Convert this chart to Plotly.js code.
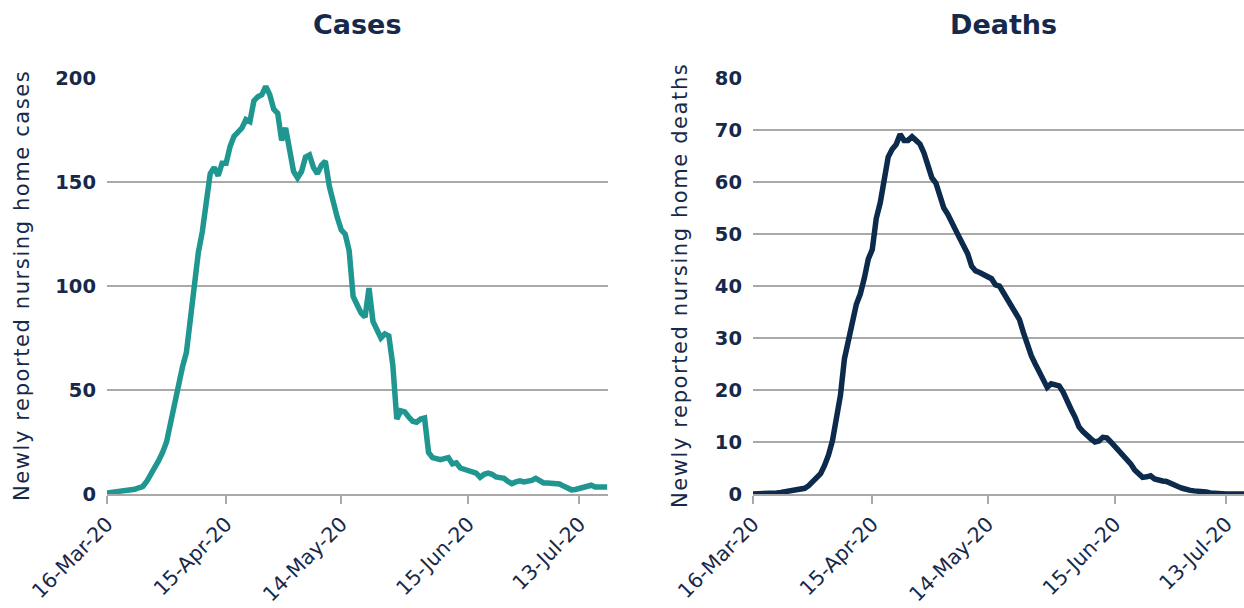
<!DOCTYPE html>
<html>
<head>
<meta charset="utf-8">
<script src="https://cdn.plot.ly/plotly-3.0.1.min.js"></script>
<style>
  html, body { margin: 0; padding: 0; background: #ffffff; }
  #chart { width: 1244px; height: 608px; }
</style>
</head>
<body>
<div id="chart"></div>
<script>
// ---- Data (daily, starting 16-Mar-2020) ----
const startDate = '2020-03-16';

const casesValues = [
  0.5, 0.7, 0.9, 1.2, 1.5, 1.7, 2, 2.3, 3, 3.6,
  6, 9, 12.5, 16, 20, 25, 34, 44, 53, 61,
  68, 84, 103, 116, 126, 140, 154, 157, 153, 159,
  159, 167, 172, 174, 176, 180, 179, 189, 191, 192,
  196, 192, 185, 183, 170, 176, 165, 155, 152, 155,
  162, 163, 157, 154, 158, 160, 148, 139, 133, 127,
  125, 117, 95, 91, 87, 85, 99, 83, 79, 75,
  77, 76, 62, 36, 40, 39.5, 37, 35, 34.5, 36,
  36.5, 20, 17.5, 17.3, 16.5, 17, 17.5, 14.5, 15, 12.5,
  12, 11.5, 11, 10, 8, 9.5, 10, 9.5, 8.2, 8,
  7.5, 6, 5, 5.8, 6.3, 5.8, 6, 6.5, 7.5, 6.5,
  5.3, 5.3, 5.3, 5, 4.8, 3.8, 2.8, 2, 2.2, 2.8,
  2.9, 3.5, 4.2, 3.4, 3.4, 3.4, 3.4
];

const deathsValues = [
  0, 0, 0, 0, 0, 0.1, 0.2, 0.3, 0.4, 0.6,
  0.7, 0.8, 0.8, 1.1, 1.6, 2.3, 3.0, 3.9, 5.5, 7.5,
  10.3, 14.5, 19, 26, 29, 33, 36.5, 38.5, 41.5, 45.2,
  47, 53, 56, 61, 64.8, 66.3, 67.2, 69.2, 68, 68,
  68.7, 68, 67.3, 65.6, 62.8, 60.8, 59.8, 57.5, 55, 53.8,
  52.5, 50.7, 49.2, 47.8, 46.2, 43.8, 42.9, 42.6, 42.2, 41.9,
  41.4, 40.2, 40, 38.7, 37.4, 36.1, 35, 33.6, 31.1, 28.5,
  26.6, 25, 23.5, 22.1, 20.5, 21.2, 21, 20.8, 19.6, 18.2,
  16.3, 14.8, 12.9, 12, 11.2, 10.6, 10, 10.2, 10.9, 10.8,
  10, 9.2, 8.1, 7.4, 6.7, 5.8, 4.6, 3.8, 3.2, 3.3,
  3.5, 2.9, 2.6, 2.5, 2.4, 2, 1.7, 1.4, 1.1, 0.8,
  0.7, 0.6, 0.6, 0.5, 0.4, 0.2, 0.1, 0.1, 0, 0,
  0, 0, 0, 0, 0
];

const tickDates = ['2020-03-16', '2020-04-15', '2020-05-14', '2020-06-15', '2020-07-13'];
const tickLabels = ['16-Mar-20', '15-Apr-20', '14-May-20', '15-Jun-20', '13-Jul-20'];

const casesYTicks = [0, 50, 100, 150, 200];
const deathsYTicks = [0, 10, 20, 30, 40, 50, 60, 70, 80];

// ---- build date axis ----
function dateSeq(start, n) {
  const out = [];
  const d0 = new Date(start + 'T00:00:00Z');
  for (let i = 0; i < n; i++) {
    const d = new Date(d0.getTime() + i * 86400000);
    out.push(d.toISOString().slice(0, 10));
  }
  return out;
}
const casesDates = dateSeq(startDate, casesValues.length);
const deathsDates = dateSeq(startDate, deathsValues.length);

// ---- styling ----
const W = 1244, H = 608;
const navy = '#17294a';
const teal = '#1f9690';
const deathNavy = '#0c2a4b';
const grid = '#a9a9a9';
const fontFam = 'DejaVu Sans, Open Sans, sans-serif';

const yDomain = [(H - 494) / H, (H - 78) / H];

function xAxis(domain, rangeEnd) {
  return {
    type: 'date',
    domain: domain,
    range: ['2020-03-16', rangeEnd],
    tickmode: 'array',
    tickvals: tickDates,
    ticktext: tickLabels,
    tickangle: -45,
    ticks: 'outside',
    ticklen: 8,
    tickwidth: 2,
    tickcolor: grid,
    showline: true,
    linecolor: grid,
    linewidth: 2,
    showgrid: false,
    zeroline: false,
    tickfont: { family: fontFam, size: 20.5, color: navy },
    automargin: false,
    fixedrange: true
  };
}

function yAxis(anchor, range, tickvals) {
  return {
    anchor: anchor,
    domain: yDomain,
    range: range,
    tickmode: 'array',
    tickvals: tickvals,
    showgrid: true,
    gridcolor: grid,
    gridwidth: 2,
    zeroline: false,
    showline: false,
    ticks: '',
    ticklabelstandoff: 10,
    tickfont: { family: fontFam, size: 19.5, color: navy, weight: 'bold' },
    automargin: false,
    fixedrange: true
  };
}

const traces = [
  {
    x: casesDates, y: casesValues, type: 'scatter', mode: 'lines',
    line: { color: teal, width: 5.5 },
    xaxis: 'x', yaxis: 'y', hoverinfo: 'skip', showlegend: false
  },
  {
    x: deathsDates, y: deathsValues, type: 'scatter', mode: 'lines',
    line: { color: deathNavy, width: 5.5 },
    xaxis: 'x2', yaxis: 'y2', hoverinfo: 'skip', showlegend: false
  }
];

const spaced = t => '<span style="letter-spacing:1.6px">' + t + '</span>';

const layout = {
  width: W, height: H,
  margin: { l: 0, r: 0, t: 0, b: 0, pad: 0 },
  paper_bgcolor: '#ffffff',
  plot_bgcolor: '#ffffff',
  showlegend: false,
  xaxis: xAxis([107 / W, 608 / W], '2020-07-20 05:00'),
  yaxis: yAxis('x', [0, 200], casesYTicks),
  xaxis2: xAxis([753 / W, 1.0], '2020-07-17 12:00'),
  yaxis2: yAxis('x2', [0, 80], deathsYTicks),
  annotations: [
    {
      text: '<b>Cases</b>', xref: 'paper', yref: 'paper',
      x: 357 / W, y: (H - 25) / H, xanchor: 'center', yanchor: 'middle',
      showarrow: false, font: { family: fontFam, size: 27, color: navy }
    },
    {
      text: '<b>Deaths</b>', xref: 'paper', yref: 'paper',
      x: 1003 / W, y: (H - 25) / H, xanchor: 'center', yanchor: 'middle',
      showarrow: false, font: { family: fontFam, size: 27, color: navy }
    },
    {
      text: spaced('Newly reported nursing home cases'), xref: 'paper', yref: 'paper',
      x: 22 / W, y: (H - 286) / H, xanchor: 'center', yanchor: 'middle',
      textangle: -90, showarrow: false,
      font: { family: fontFam, size: 21, color: navy }
    },
    {
      text: spaced('Newly reported nursing home deaths'), xref: 'paper', yref: 'paper',
      x: 680 / W, y: (H - 286) / H, xanchor: 'center', yanchor: 'middle',
      textangle: -90, showarrow: false,
      font: { family: fontFam, size: 21, color: navy }
    }
  ]
};

Plotly.newPlot('chart', traces, layout, { staticPlot: true, displayModeBar: false });
</script>
</body>
</html>
